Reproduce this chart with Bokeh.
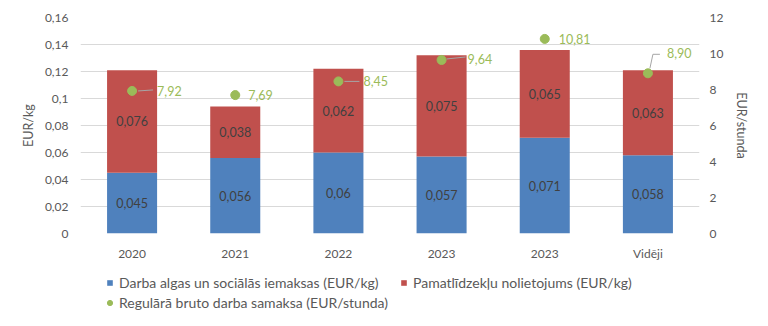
from bokeh.plotting import figure
from bokeh.layouts import column
from bokeh.models import (ColumnDataSource, Range1d, LinearAxis, FixedTicker,
                          Legend, LegendItem)
from bokeh.core.properties import value
from bokeh.embed import file_html
from bokeh.resources import INLINE

# ---------------- data ----------------
categories = ["2020", "2021", "2022", "2023", "2023", "Vidēji"]
wages = [0.045, 0.056, 0.06, 0.057, 0.071, 0.058]          # EUR/kg
depreciation = [0.076, 0.038, 0.062, 0.075, 0.065, 0.063]  # EUR/kg
gross_pay = [7.92, 7.69, 8.45, 9.64, 10.81, 8.90]          # EUR/stunda

left_ticks = [0, 0.02, 0.04, 0.06, 0.08, 0.1, 0.12, 0.14, 0.16]
left_tick_labels = ["0", "0,02", "0,04", "0,06", "0,08", "0,1", "0,12", "0,14", "0,16"]
right_ticks = [0, 2, 4, 6, 8, 10, 12]
right_tick_labels = ["0", "2", "4", "6", "8", "10", "12"]

series_names = ["Darba algas un sociālās iemaksas (EUR/kg)",
                "Pamatlīdzekļu nolietojums (EUR/kg)",
                "Regulārā bruto darba samaksa (EUR/stunda)"]

# ---------------- style ----------------
FONT = "Lato"
BLUE, RED, GREEN = "#4F81BD", "#C0504D", "#9BBB59"
TICK_C, LBL_C, GRID_C = "#595959", "#404040", "#D9D9D9"
FRAME_W, FRAME_H = 619, 216
# screen offsets of the point labels (px) and leader lines (px from point)
label_dx = [25, 13, 25, 26, 14, 19]
label_dy = [0, 0, 0, -1, 0, -20]
leaders = {0: [(6, 0), (21, -1)],
           2: [(6, 0), (21, 0)],
           3: [(5, -1), (24, -3)],
           5: [(2, -5), (5, -19), (12, -19)]}

x = list(range(len(categories)))

def fmt(v):
    return ("%g" % v).replace(".", ",")

src = ColumnDataSource(dict(
    x=x, wages=wages, depreciation=depreciation,
    wy=[w / 2 for w in wages],
    dy=[w + d / 2 for w, d in zip(wages, depreciation)],
    wl=[fmt(v) for v in wages], dl=[fmt(v) for v in depreciation],
))
psrc = ColumnDataSource(dict(
    x=x, y=gross_pay, lbl=[("%.2f" % v).replace(".", ",") for v in gross_pay],
    dx=label_dx, dy=label_dy,
))

p = figure(frame_width=FRAME_W, frame_height=FRAME_H,
           x_range=Range1d(-0.5, len(categories) - 0.5), y_range=Range1d(0, 0.16),
           output_backend="svg", toolbar_location=None,
           min_border_left=80, min_border_right=69, min_border_top=17, min_border_bottom=33)
p.extra_y_ranges = {"hr": Range1d(0, 12)}
p.outline_line_color = None
p.border_fill_color = "white"

# bars
bars = p.vbar_stack(["wages", "depreciation"], x="x", width=0.485,
                    color=[BLUE, RED], line_color=None, source=src)
for col, lab in (("wy", "wl"), ("dy", "dl")):
    p.text(x="x", y=col, text=lab, source=src, text_align="center",
           text_baseline="middle", text_font=value(FONT), text_font_size="12.5px",
           text_color=LBL_C)

# leader lines
lx, ly = [], []
for i, pts_ in leaders.items():
    lx.append([x[i] + px / (FRAME_W / len(categories)) for px, py in pts_])
    ly.append([gross_pay[i] - py / (FRAME_H / 12) for px, py in pts_])
p.multi_line(xs=lx, ys=ly, line_color="#A6A6A6", line_width=1, y_range_name="hr")

# points
pts = p.scatter(x="x", y="y", source=psrc, size=9, color=GREEN, y_range_name="hr")
p.text(x="x", y="y", text="lbl", source=psrc, x_offset="dx", y_offset="dy",
       text_align="left", text_baseline="middle", text_font=value(FONT),
       text_font_size="12.5px", text_color=GREEN, y_range_name="hr")

# axes
p.xaxis.ticker = FixedTicker(ticks=x)
p.xaxis.major_label_overrides = {i: c for i, c in zip(x, categories)}
p.yaxis.ticker = FixedTicker(ticks=left_ticks)
p.yaxis.major_label_overrides = dict(zip(left_ticks, left_tick_labels))
p.yaxis.axis_label = "EUR/kg"

ra = LinearAxis(y_range_name="hr", ticker=FixedTicker(ticks=right_ticks),
                axis_label="EUR/stunda")
ra.major_label_overrides = dict(zip(right_ticks, right_tick_labels))
p.add_layout(ra, "right")

for ax in p.xaxis + p.yaxis:
    ax.axis_line_color = None
    ax.major_tick_line_color = None
    ax.minor_tick_line_color = None
    ax.major_tick_out = 0
    ax.major_tick_in = 0
    ax.minor_tick_out = 0
    ax.minor_tick_in = 0
    ax.major_label_text_font = FONT
    ax.major_label_text_font_size = "12px"
    ax.major_label_text_color = TICK_C
    ax.axis_label_text_font = FONT
    ax.axis_label_text_font_size = "12.5px"
    ax.axis_label_text_font_style = "normal"
    ax.axis_label_text_color = TICK_C
p.xaxis.major_label_standoff = 12
p.yaxis[0].major_label_standoff = 12
p.yaxis[0].axis_label_standoff = 6
ra.major_label_standoff = 10
ra.axis_label_standoff = 8

p.xgrid.grid_line_color = None
p.ygrid.grid_line_color = GRID_C
p.ygrid.ticker = FixedTicker(ticks=left_ticks)

# ---------------- legend strip ----------------
LEG_H = 326 - (17 + FRAME_H + 33)
lg = figure(width=768, height=LEG_H, x_range=Range1d(0, 768), y_range=Range1d(0, LEG_H),
            x_axis_location=None, y_axis_location=None, min_border=0,
            output_backend="svg", toolbar_location=None)
lg.grid.grid_line_color = None
lg.outline_line_color = None
# placeholder glyphs without drawable data: they only supply the legend swatches
nan = float("nan")
r_blue = lg.vbar(x=[nan], top=[nan], width=1, color=BLUE, line_color=None)
r_red = lg.vbar(x=[nan], top=[nan], width=1, color=RED, line_color=None)
r_green = lg.scatter(x=[nan], y=[nan], size=7, color=GREEN)

def add_legend(name, renderer, loc, gsize=7, standoff=6):
    leg = Legend(items=[LegendItem(label=name, renderers=[renderer])], location=loc,
                 padding=0, margin=0, spacing=0, border_line_color=None,
                 background_fill_alpha=0, glyph_width=gsize, glyph_height=gsize,
                 label_standoff=standoff, label_height=16,
                 label_text_font=FONT, label_text_font_size="14px",
                 label_text_color=TICK_C)
    lg.add_layout(leg, "center")

add_legend(series_names[0], r_blue, (26, LEG_H - 25))
add_legend(series_names[1], r_red, (320, LEG_H - 25))
add_legend(series_names[2], r_green, (23, LEG_H - 45), gsize=13, standoff=3)

layout = column(p, lg, spacing=0)
open("out.html", "w").write(file_html(layout, INLINE))
